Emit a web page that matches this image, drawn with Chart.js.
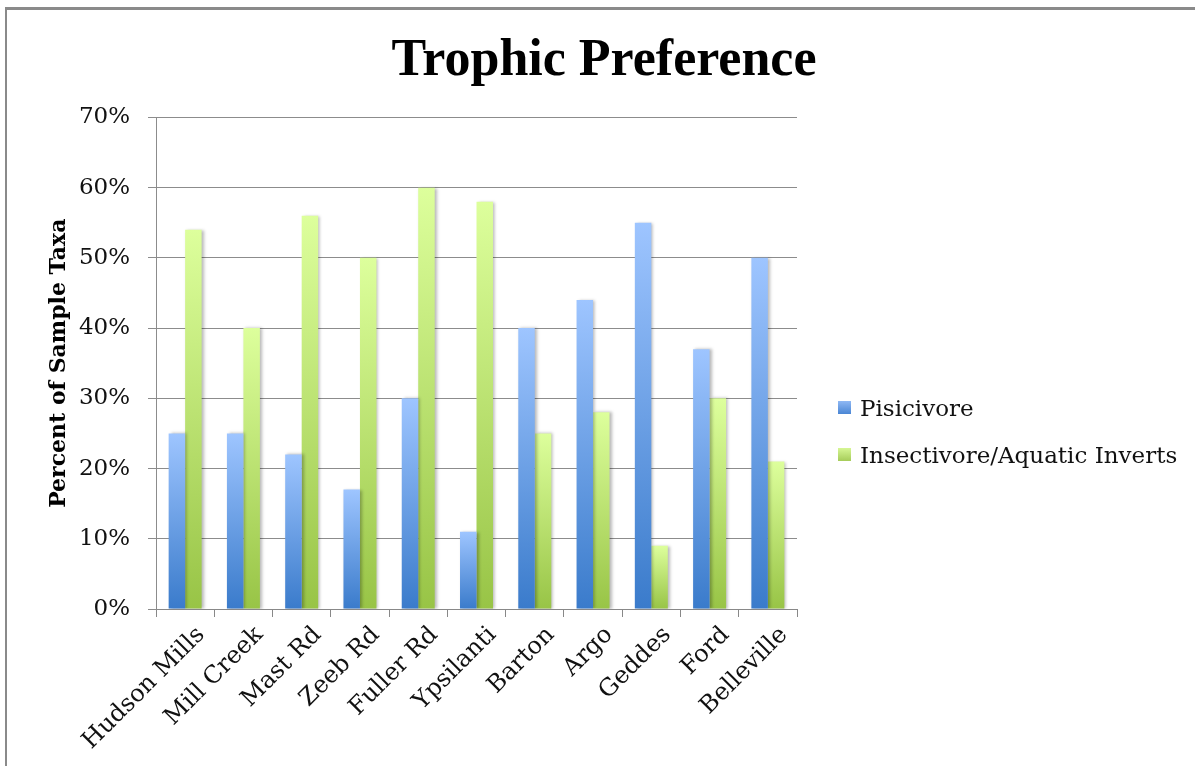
<!DOCTYPE html>
<html>
<head>
<meta charset="utf-8">
<script src="https://cdn.jsdelivr.net/npm/chart.js@4/dist/chart.umd.min.js"></script>
<style>
  html, body { margin: 0; padding: 0; background: #fff; }
  #wrap { position: relative; width: 1195px; height: 766px; overflow: hidden; }
  #frame { position: absolute; left: 5px; top: 7px; width: 1300px; height: 900px;
           border-left: 2px solid #8a8a8a; border-top: 3px solid #8a8a8a; }
  #legend { position: absolute; left: 838px; top: 384px; font-family: "DejaVu Serif", serif;
            font-size: 23px; color: #111; }
  #legend div { display: flex; align-items: center; height: 47px; white-space: nowrap; }
  #legend span.box { width: 13px; height: 13px; margin-right: 9px; display: inline-block; }
</style>
</head>
<body>
<div id="wrap">
  <div id="frame"></div>
  <canvas id="myChart" width="1195" height="766"></canvas>
  <div id="legend"></div>
</div>
<script>
// Sampling sites and trophic guild shares
const sites = ["Hudson Mills", "Mill Creek", "Mast Rd", "Zeeb Rd", "Fuller Rd", "Ypsilanti",
  "Barton", "Argo", "Geddes", "Ford", "Belleville"];
const pisicivore = [25, 25, 22, 17, 30, 11, 40, 44, 55, 37, 50];
const insectivore = [54, 40, 56, 50, 60, 58, 25, 28, 9, 30, 21];
const yTicks = [0, 10, 20, 30, 40, 50, 60, 70];

const serif = "'DejaVu Serif', serif";
const titleSerif = "'Liberation Serif', serif";

// vertical gradient per bar, dark at the base, light at the top
function barGradient(bottomColor, topColor) {
  return function (context) {
    const chart = context.chart;
    const y = chart.scales.y;
    if (!y || context.parsed === undefined) return bottomColor;
    const top = y.getPixelForValue(context.parsed.y);
    const base = y.getPixelForValue(0);
    if (!isFinite(top) || !isFinite(base) || top === base) return bottomColor;
    const g = chart.ctx.createLinearGradient(0, base, 0, top);
    g.addColorStop(0, bottomColor);
    g.addColorStop(1, topColor);
    return g;
  };
}

// soft shadow to the right of the bars
const barShadow = {
  id: 'barShadow',
  beforeDatasetsDraw(chart) {
    const c = chart.ctx;
    c.save();
    c.shadowColor = 'rgba(0,0,0,0.28)';
    c.shadowOffsetX = 2;
    c.shadowOffsetY = 0;
    c.shadowBlur = 3;
  },
  afterDatasetsDraw(chart) {
    chart.ctx.restore();
  }
};

const ctx = document.getElementById("myChart").getContext("2d");
const myChart = new Chart(ctx, {
  type: 'bar',
  data: {
    labels: sites,
    datasets: [{
      label: 'Pisicivore',
      data: pisicivore,
      backgroundColor: barGradient('#3a7bcb', '#9ec5ff'),
      legendColor: ['#4a86d4', '#8fb8f4'],
      borderWidth: 0
    }, {
      label: 'Insectivore/Aquatic Inverts',
      data: insectivore,
      backgroundColor: barGradient('#98c446', '#ddff9c'),
      legendColor: ['#a6cc5a', '#d6f694'],
      borderWidth: 0
    }]
  },
  plugins: [barShadow],
  options: {
    responsive: false,
    animation: false,
    events: [],
    layout: { padding: { left: 46, right: 33, top: 0, bottom: 0 } },
    datasets: {
      bar: { categoryPercentage: 0.566, barPercentage: 1.0 }
    },
    plugins: {
      legend: { display: false },
      tooltip: { enabled: false },
      title: {
        display: true,
        text: 'Trophic Preference',
        color: '#000',
        font: { family: titleSerif, size: 52, weight: 'bold' },
        padding: { top: 30, bottom: 25 }
      }
    },
    scales: {
      x: {
        offset: true,
        grid: {
          offset: true,
          drawOnChartArea: false,
          drawTicks: true,
          tickLength: 8,
          color: '#888',
          lineWidth: 1
        },
        border: { color: '#888', width: 1 },
        ticks: {
          color: '#111',
          font: { family: serif, size: 24 },
          minRotation: 45,
          maxRotation: 45,
          autoSkip: false,
          labelOffset: 16,
          padding: 4
        },
        afterFit(scale) { scale.height = 766 - 609; }
      },
      y: {
        min: 0,
        max: 70,
        afterBuildTicks(scale) { scale.ticks = yTicks.map(v => ({ value: v })); },
        grid: {
          color: '#8c8c8c',
          lineWidth: 1,
          drawTicks: true,
          tickLength: 8
        },
        border: { color: '#8c8c8c', width: 1 },
        ticks: {
          color: '#111',
          font: { family: serif, size: 23 },
          padding: 18,
          callback: v => v + '%'
        },
        title: {
          display: true,
          text: 'Percent of Sample Taxa',
          color: '#000',
          font: { family: serif, size: 22, weight: 'bold' },
          padding: { top: 0, bottom: 0 }
        },
        afterFit(scale) { scale.width = 110; }
      },
      // empty right-hand axis that keeps room for the legend
      side: {
        type: 'linear',
        position: 'right',
        grid: { display: false },
        border: { display: false },
        ticks: { display: false },
        afterFit(scale) { scale.width = 365; }
      }
    }
  }
});

// legend beside the plot
const legendBox = document.getElementById("legend");
myChart.data.datasets.forEach(ds => {
  const row = document.createElement("div");
  const box = document.createElement("span");
  box.className = "box";
  box.style.background = `linear-gradient(to top, ${ds.legendColor[0]}, ${ds.legendColor[1]})`;
  row.appendChild(box);
  row.appendChild(document.createTextNode(ds.label));
  legendBox.appendChild(row);
});
</script>
</body>
</html>
